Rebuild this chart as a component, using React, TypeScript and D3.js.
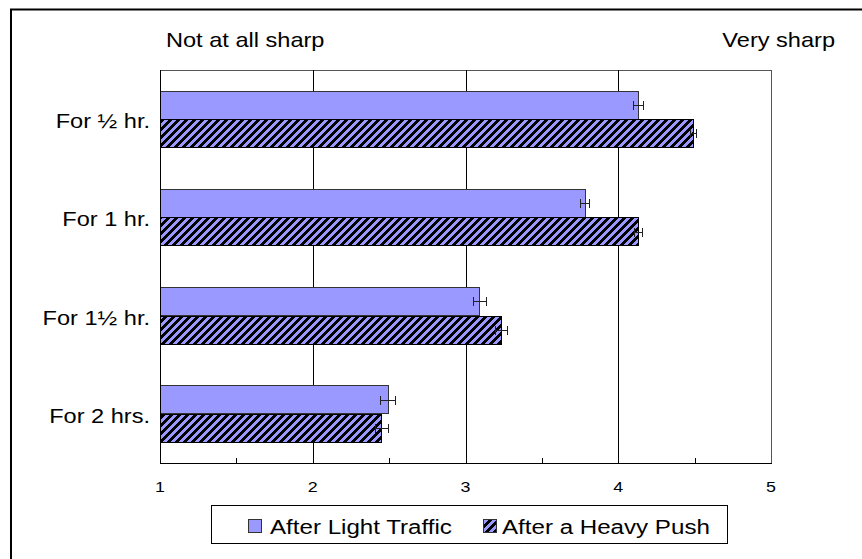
import React, { useEffect, useRef } from 'react';
import * as d3 from 'd3';

const categories = ['For ½ hr.', 'For 1 hr.', 'For 1½ hr.', 'For 2 hrs.'];
const seriesNames = ['After Light Traffic', 'After a Heavy Push'];
const lightValues = [4.13, 3.78, 3.09, 2.49];
const lightErrors = [0.035, 0.03, 0.042, 0.05];
const heavyValues = [4.49, 4.13, 3.23, 2.45];
const heavyErrors = [0.02, 0.025, 0.04, 0.04];
const xTicks = [1, 2, 3, 4, 5];
const minorTicks = [1.5, 2.5, 3.5, 4.5];
const topLeftLabel = 'Not at all sharp';
const topRightLabel = 'Very sharp';

const W = 862;
const H = 559;
const FONT = 'Arial, "Liberation Sans", sans-serif';
// the original chart is a little stretched sideways, text included
const SX = 1.15;

const App: React.FC = () => {
  const svgRef = useRef<SVGSVGElement>(null);

  useEffect(() => {
    if (!svgRef.current) return;
    const svg = d3.select(svgRef.current);
    svg.selectAll('*').remove();

    const plot = { left: 160, right: 771, top: 70, bottom: 463 };

    const addText = (parent: any, tx: number, ty: number, txt: string, size: number, anchor = 'start') =>
      parent.append('text')
        .attr('transform', `translate(${tx},${ty}) scale(${SX},1)`)
        .attr('text-anchor', anchor)
        .attr('font-family', FONT)
        .attr('font-size', size)
        .attr('fill', '#000')
        .text(txt);

    // hatch pattern: black/blue diagonal, 8px tile
    const defs = svg.append('defs');
    const pat = defs.append('pattern')
      .attr('id', 'hatch')
      .attr('patternUnits', 'userSpaceOnUse')
      .attr('width', 8).attr('height', 8);
    pat.append('rect').attr('width', 8).attr('height', 8).attr('fill', '#9999FF');
    for (let r = 0; r < 8; r++) {
      for (let c = 0; c < 8; c++) {
        if ((c + r) % 8 < 4) {
          pat.append('rect').attr('x', c).attr('y', r).attr('width', 1).attr('height', 1)
            .attr('fill', '#000').attr('shape-rendering', 'crispEdges');
        }
      }
    }

    // outer frame
    svg.append('rect')
      .attr('x', 11).attr('y', 9.5)
      .attr('width', 900).attr('height', 600)
      .attr('fill', 'white').attr('stroke', '#000').attr('stroke-width', 2);

    const x = d3.scaleLinear().domain([1, 5]).range([plot.left, plot.right]);
    const y = d3.scaleBand<string>().domain(categories).range([plot.top, plot.bottom])
      .paddingInner(0.42).paddingOuter(0.21);
    const ySub = d3.scaleBand<string>().domain(seriesNames).range([0, y.bandwidth()]);

    const g = svg.append('g').attr('shape-rendering', 'crispEdges');

    // plot area border
    g.append('rect')
      .attr('x', plot.left + 0.5).attr('y', plot.top + 0.5)
      .attr('width', plot.right - plot.left).attr('height', plot.bottom - plot.top)
      .attr('fill', 'none').attr('stroke', '#555');

    // gridlines
    g.selectAll('.grid')
      .data(xTicks.slice(1, -1))
      .enter().append('line')
      .attr('x1', d => Math.round(x(d)) + 0.5).attr('x2', d => Math.round(x(d)) + 0.5)
      .attr('y1', plot.top).attr('y2', plot.bottom)
      .attr('stroke', '#000');

    const series = [
      { name: seriesNames[0], values: lightValues, errors: lightErrors, fill: '#9999FF', stroke: '#333' },
      { name: seriesNames[1], values: heavyValues, errors: heavyErrors, fill: 'url(#hatch)', stroke: '#000' },
    ];

    series.forEach(s => {
      categories.forEach((cat, i) => {
        const top = (y(cat) || 0) + (ySub(s.name) || 0);
        const bh = ySub.bandwidth();
        g.append('rect')
          .attr('x', x(1) + 0.5)
          .attr('y', Math.round(top) + 0.5)
          .attr('width', x(s.values[i]) - x(1))
          .attr('height', Math.round(bh))
          .attr('fill', s.fill)
          .attr('stroke', s.stroke);
      });
    });

    // error bars
    series.forEach(s => {
      categories.forEach((cat, i) => {
        const cy = Math.round((y(cat) || 0) + (ySub(s.name) || 0) + ySub.bandwidth() / 2) + 0.5;
        const x0 = Math.round(x(s.values[i] - s.errors[i])) + 0.5;
        const x1 = Math.round(x(s.values[i] + s.errors[i])) + 0.5;
        g.append('line').attr('x1', x0).attr('x2', x1).attr('y1', cy).attr('y2', cy)
          .attr('stroke', '#222').attr('stroke-width', 1);
        [x0, x1].forEach(xx => {
          g.append('line').attr('x1', xx).attr('x2', xx).attr('y1', cy - 4.5).attr('y2', cy + 4.5)
            .attr('stroke', '#222').attr('stroke-width', 1);
        });
      });
    });

    // axes lines
    g.append('line').attr('x1', plot.left + 0.5).attr('x2', plot.left + 0.5)
      .attr('y1', plot.top).attr('y2', plot.bottom + 1).attr('stroke', '#000');
    g.append('line').attr('x1', plot.left).attr('x2', plot.right + 1)
      .attr('y1', plot.bottom + 0.5).attr('y2', plot.bottom + 0.5).attr('stroke', '#000');

    // minor tick marks pointing inward
    g.selectAll('.mtick')
      .data(minorTicks)
      .enter().append('line')
      .attr('x1', d => Math.round(x(d)) + 0.5).attr('x2', d => Math.round(x(d)) + 0.5)
      .attr('y1', plot.bottom - 5).attr('y2', plot.bottom)
      .attr('stroke', '#000');

    // tick labels
    xTicks.forEach(t => addText(svg, x(t), 492, String(t), 15.5, 'middle'));

    // category labels
    categories.forEach(c => addText(svg, 150, (y(c) || 0) + y.bandwidth() / 2 + 9, c, 20.5, 'end'));

    // top labels
    addText(svg, 166, 47, topLeftLabel, 20.5);
    addText(svg, 835, 47, topRightLabel, 20.5, 'end');

    // legend
    const lg = svg.append('g');
    lg.append('rect').attr('x', 211.5).attr('y', 505.5).attr('width', 516).attr('height', 38)
      .attr('fill', 'white').attr('stroke', '#000').attr('shape-rendering', 'crispEdges');
    const legendItems = [
      { name: seriesNames[0], fill: '#9999FF', sx: 248, tx: 270 },
      { name: seriesNames[1], fill: 'url(#hatch)', sx: 483, tx: 502 },
    ];
    legendItems.forEach(it => {
      lg.append('rect').attr('x', it.sx + 0.5).attr('y', 519.5).attr('width', 13).attr('height', 13)
        .attr('fill', it.fill).attr('stroke', '#333').attr('shape-rendering', 'crispEdges');
      addText(lg, it.tx, 534, it.name, 21);
    });
  }, []);

  return (
    <svg
      ref={svgRef}
      width={W}
      height={H}
      style={{ position: 'absolute', left: 0, top: 0, background: 'white' }}
    />
  );
};

export default App;
